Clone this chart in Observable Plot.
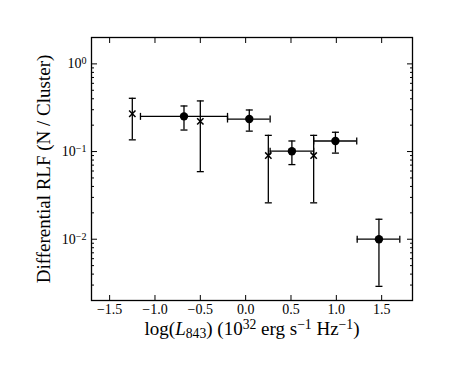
<!DOCTYPE html>
<html><head><meta charset="utf-8">
<script src="https://cdn.jsdelivr.net/npm/d3@7"></script>
<script src="https://cdn.jsdelivr.net/npm/@observablehq/plot@0.6"></script>
<style>body{margin:0;background:#fff} svg text{font-family:'Liberation Serif','Times New Roman',serif !important}</style>
</head><body><div id="chart"></div>
<script>
// Crosses (x only points)
const crossX  = [-1.25, -0.50, 0.25, 0.75];
const crossY  = [0.270, 0.221, 0.090, 0.090];
const crossLo = [0.136, 0.059, 0.026, 0.026];
const crossHi = [0.405, 0.378, 0.153, 0.153];

// Filled circles with x-bins
const circX   = [-0.68, 0.04, 0.51, 0.99, 1.47];
const circY   = [0.252, 0.235, 0.101, 0.132, 0.010];
const circLo  = [0.176, 0.171, 0.071, 0.096, 0.0029];
const circHi  = [0.331, 0.298, 0.132, 0.166, 0.0169];
const circXLo = [-1.16, -0.20, 0.27, 0.75, 1.23];
const circXHi = [-0.20, 0.27, 0.75, 1.225, 1.70];

const xTicks = [-1.5, -1.0, -0.5, 0.0, 0.5, 1.0, 1.5];
const yMajor = [0.01, 0.1, 1];
const yTickLabels = ["10^{−2}", "10^{−1}", "10^{0}"];
const yMinor = [];
for (const k of [-3, -2, -1, 0]) for (let m = 2; m <= 9; m++) { const v = m * Math.pow(10, k); if (v > 0.002 && v < 2) yMinor.push(v); }
const xLabel = "log(*{L}_{843}) (10^{32} erg s^{−1} Hz^{−1})";
const yLabel = "Differential RLF (N / Cluster)";

const crosses = crossX.map((x, i) => ({x, y: crossY[i], lo: crossLo[i], hi: crossHi[i]}));
const circles = circX.map((x, i) => ({x, y: circY[i], lo: circLo[i], hi: circHi[i], xlo: circXLo[i], xhi: circXHi[i]}));

const hcap = {draw(ctx, size) { const r = Math.sqrt(size / Math.PI); ctx.moveTo(-r, 0); ctx.lineTo(r, 0); }};
const vcap = {draw(ctx, size) { const r = Math.sqrt(size / Math.PI); ctx.moveTo(0, -r); ctx.lineTo(0, r); }};
const SW = 1.3;
const FF = "'Liberation Serif', 'Times New Roman', serif";
const blank = () => "";

const plot = Plot.plot({
  width: 458, height: 375,
  marginLeft: 91, marginRight: 46, marginTop: 37, marginBottom: 75,
  style: {fontFamily: FF, fontSize: "14px", background: "#fff", color: "#000"},
  x: {domain: [-1.7, 1.84], label: null},
  y: {type: "log", domain: [0.002, 2], label: null},
  marks: [
    Plot.axisX(xTicks, {anchor: "bottom", tickSize: 5, dy: -5, tickFormat: blank, label: null, strokeWidth: 1}),
    Plot.axisX(xTicks, {anchor: "top", tickSize: 5, dy: 5, tickFormat: blank, label: null, strokeWidth: 1}),
    Plot.axisX(xTicks, {anchor: "bottom", tickSize: 0, tickPadding: 4, label: null, fontSize: 14, fontFamily: FF, tickFormat: d => d.toFixed(1).replace("-", "−")}),
    Plot.axisY(yMajor, {anchor: "left", tickSize: 6, dx: 6, tickFormat: blank, label: null, strokeWidth: 1}),
    Plot.axisY(yMajor, {anchor: "right", tickSize: 6, dx: -6, tickFormat: blank, label: null, strokeWidth: 1}),
    Plot.axisY(yMinor, {anchor: "left", tickSize: 3, dx: 3, tickFormat: blank, label: null, strokeWidth: 1}),
    Plot.axisY(yMinor, {anchor: "right", tickSize: 3, dx: -3, tickFormat: blank, label: null, strokeWidth: 1}),
    Plot.axisY(yMajor, {anchor: "left", tickSize: 0, tickPadding: 5, label: null, fontSize: 14, fontFamily: FF, tickFormat: d => yTickLabels[yMajor.indexOf(d)]}),
    Plot.frame({stroke: "#000", strokeWidth: SW}),
    // crosses
    Plot.ruleX(crosses, {x: "x", y1: "lo", y2: "hi", stroke: "#000", strokeWidth: SW}),
    Plot.dot(crosses, {x: "x", y: "lo", symbol: hcap, r: 3.5, stroke: "#000", fill: "none", strokeWidth: SW}),
    Plot.dot(crosses, {x: "x", y: "hi", symbol: hcap, r: 3.5, stroke: "#000", fill: "none", strokeWidth: SW}),
    Plot.dot(crosses, {x: "x", y: "y", symbol: "times", r: 3, stroke: "#000", strokeWidth: 1.5}),
    // circles
    Plot.ruleX(circles, {x: "x", y1: "lo", y2: "hi", stroke: "#000", strokeWidth: SW}),
    Plot.ruleY(circles, {y: "y", x1: "xlo", x2: "xhi", stroke: "#000", strokeWidth: SW}),
    Plot.dot(circles, {x: "x", y: "lo", symbol: hcap, r: 3.5, stroke: "#000", fill: "none", strokeWidth: SW}),
    Plot.dot(circles, {x: "x", y: "hi", symbol: hcap, r: 3.5, stroke: "#000", fill: "none", strokeWidth: SW}),
    Plot.dot(circles, {x: "xlo", y: "y", symbol: vcap, r: 3.5, stroke: "#000", fill: "none", strokeWidth: SW}),
    Plot.dot(circles, {x: "xhi", y: "y", symbol: vcap, r: 3.5, stroke: "#000", fill: "none", strokeWidth: SW}),
    Plot.dot(circles, {x: "x", y: "y", r: 4.2, fill: "#000", stroke: "none"}),
    // axis labels
    Plot.text([xLabel], {text: d => d, frameAnchor: "bottom", dy: 34, fontSize: 19, fontFamily: FF, fill: "#000", textAnchor: "middle"}),
    Plot.text([yLabel], {text: d => d, frameAnchor: "left", dx: -48, rotate: -90, fontSize: 19, fontFamily: FF, fill: "#000", textAnchor: "middle"})
  ]
});

// rich text: ^{sup} _{sub} *{italic}
const NS = "http://www.w3.org/2000/svg";
plot.querySelectorAll("text").forEach(t => {
  const s = t.textContent;
  if (!/[\^_*]\{/.test(s)) return;
  t.textContent = "";
  const re = /([\^_*])\{([^}]*)\}/g;
  let last = 0, m;
  const add = (str, kind) => {
    if (!str) return;
    const ts = document.createElementNS(NS, "tspan");
    ts.textContent = str;
    if (kind === "^") { ts.setAttribute("baseline-shift", "40%"); ts.setAttribute("font-size", "72%"); }
    if (kind === "_") { ts.setAttribute("baseline-shift", "-18%"); ts.setAttribute("font-size", "72%"); }
    if (kind === "*") { ts.setAttribute("font-style", "italic"); }
    t.appendChild(ts);
  };
  while ((m = re.exec(s))) { add(s.slice(last, m.index), ""); add(m[2], m[1]); last = re.lastIndex; }
  add(s.slice(last), "");
});
document.getElementById("chart").appendChild(plot);
</script>
</body></html>
